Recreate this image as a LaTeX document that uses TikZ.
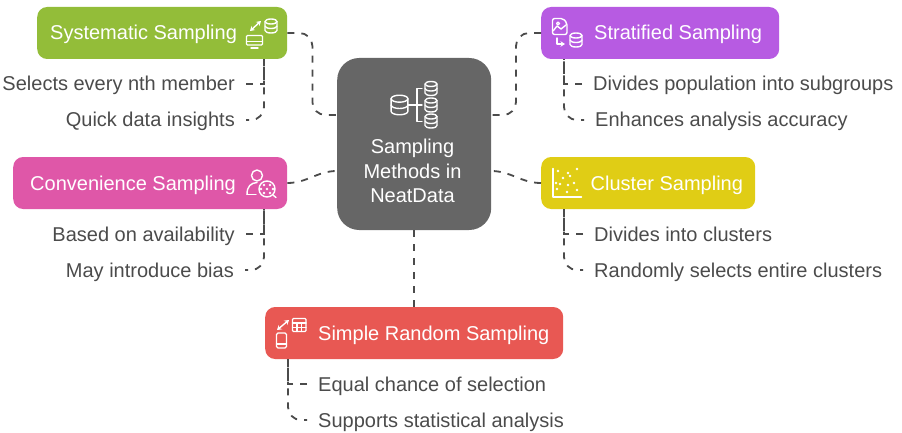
\documentclass[tikz,border=0pt]{standalone}
\usepackage{fontspec}
\usetikzlibrary{arrows.meta}
\setmainfont{Liberation Sans}
\definecolor{sysGreen}{HTML}{93BD39}
\definecolor{stratPurple}{HTML}{B75BE2}
\definecolor{convPink}{HTML}{DF57A8}
\definecolor{clustYellow}{HTML}{E0CD15}
\definecolor{simpleRed}{HTML}{E85853}
\definecolor{hubGray}{HTML}{666666}
\definecolor{inkGray}{HTML}{4B4B4B}
\def\dlink{\draw[link]}
\def\dicon{\draw[iconline]}
\tikzset{
    link/.style={draw=inkGray,line width=1.8pt,dash pattern=on 7pt off 7pt},
    softlink/.style={rounded corners=13pt},
    softend/.style={rounded corners=13pt,dash phase=4pt},
    box/.style={rectangle,rounded corners=10pt,minimum height=52pt,inner sep=0pt,anchor=west},
    title/.style={text=white,font=\fontsize{20}{24}\selectfont,inner sep=0pt,text height=14pt,text depth=0pt,anchor=west},
    leaf/.style={text=inkGray,font=\fontsize{20}{24}\selectfont,inner ysep=0pt,inner xsep=11pt,text height=14pt,text depth=0pt},
    iconline/.style={draw=white,line width=1.4pt,line cap=round,line join=round,>={Stealth[length=4.5pt,width=5.5pt]}},
    dbcan/.pic={
        \draw[iconline] (0,-4.5) ellipse [x radius=6,y radius=2.5];
        \draw[iconline] (-6,-4.5) -- (-6,4.5) arc [start angle=180,end angle=0,x radius=6,y radius=2.5] -- (6,-4.5);
        \draw[iconline] (-6,0) arc [start angle=180,end angle=0,x radius=6,y radius=2.5];
    },
}
\begin{document}
\begin{tikzpicture}[x=1pt,y=-1pt]
    \useasboundingbox (0,0) rectangle (902,433);

    \node[box,fill=hubGray,minimum width=154pt,minimum height=172pt,rounded corners=22pt] (hub) at (337,144) {};
    \node[align=center,text=white,font=\fontsize{20}{24.5}\selectfont,inner sep=0pt] (hubText) at (412.5,171) {Sampling\\Methods in\\NeatData};
    \node[box,fill=sysGreen,minimum width=250pt] (sys) at (37,33) {};
    \node[box,fill=stratPurple,minimum width=238pt] (strat) at (541,33) {};
    \node[box,fill=convPink,minimum width=274pt] (conv) at (13,183) {};
    \node[box,fill=clustYellow,minimum width=214pt] (clust) at (541,183) {};
    \node[box,fill=simpleRed,minimum width=298pt] (simple) at (265,333) {};

    \node[title] (sysText) at (50,33) {Systematic Sampling};
    \node[title] (stratText) at (594,33) {Stratified Sampling};
    \node[title] (convText) at (30,183) {Convenience Sampling};
    \node[title] (clustText) at (590.5,183) {Cluster Sampling};
    \node[title] (simpleText) at (318,333) {Simple Random Sampling};

    \node[leaf,anchor=east] (selects) at (246,84) {Selects every nth member};
    \node[leaf,anchor=east] (quick) at (246,120) {Quick data insights};
    \node[leaf,anchor=west] (divides) at (582,84) {Divides population into subgroups};
    \node[leaf,anchor=west] (enhances) at (584,120) {Enhances analysis accuracy};
    \node[leaf,anchor=east] (based) at (246,234) {Based on availability};
    \node[leaf,anchor=east] (may) at (245,270) {May introduce bias};
    \node[leaf,anchor=west] (clusters) at (583,234) {Divides into clusters};
    \node[leaf,anchor=west] (randomly) at (583,270) {Randomly selects entire clusters};
    \node[leaf,anchor=west] (equal) at (307,384) {Equal chance of selection};
    \node[leaf,anchor=west] (supports) at (307,420) {Supports statistical analysis};

    \coordinate (sysIn) at (337,115);
    \coordinate (stratIn) at (491,115);
    \coordinate (convIn) at (337,171);
    \coordinate (clustIn) at (491,171);
    \coordinate (sysRoot) at (264,59);
    \coordinate (stratRoot) at (564,59);
    \coordinate (convRoot) at (264,209);
    \coordinate (clustRoot) at (564,209);
    \coordinate (simpleRoot) at (288,359);

    \dlink[softlink] (sys.east) -- ++(25,0) |- (sysIn);
    \dlink[softlink] (strat.west) -- ++(-25,0) |- (stratIn);
    \dlink (conv.east) to[out=0,in=180] (convIn);
    \dlink (clust.west) to[out=180,in=0] (clustIn);
    \dlink (hub.south) -- (simple.north -| hub.south);

    \dlink (selects.east) -| (sysRoot);
    \dlink[softend] (quick.east) -| (sysRoot);
    \dlink (divides.west) -| (stratRoot);
    \dlink[softend] (enhances.west) -| (stratRoot);
    \dlink (based.east) -| (convRoot);
    \dlink[softend] (may.east) -| (convRoot);
    \dlink (clusters.west) -| (clustRoot);
    \dlink[softend] (randomly.west) -| (clustRoot);
    \dlink (equal.west) -| (simpleRoot);
    \dlink[softend] (supports.west) -| (simpleRoot);

    \pic[scale=1.4] at (399.5,105) {dbcan};
    \pic at (431,88.5) {dbcan};
    \pic at (431,105) {dbcan};
    \pic at (431,121) {dbcan};
    \dicon (422,88.5) -- (417,88.5) -- (417,121.5) -- (422,121.5);
    \dicon (408,105) -- (422,105);

    \pic at (271,26) {dbcan};
    \dicon[rounded corners=1pt] (246.5,35.5) rectangle (262.5,45);
    \dicon (246.5,41.5) -- (262.5,41.5);
    \dicon (251,48) -- (258,48);
    \dicon[<->] (250,31) -- (261,21);

    \pic at (576,40) {dbcan};
    \dicon[rounded corners=2pt] (552.5,18.5) -- (563,18.5) -- (567,23) -- (567,34.5) -- (552.5,34.5) -- cycle;
    \dicon (553,31) -- (557,26) -- (561,29) -- (566,25);
    \dicon (558,23.5) circle (1.5);
    \dicon[->] (557,38) -- (557,44) -- (565,44);

    \dicon (257,175.5) circle (5.5);
    \dicon (247,194.5) .. controls (247,186) and (251,183) .. (257,182.5);
    \dicon (247,194.5) -- (256,194.5);
    \dicon (267,189) circle (8);
    \dicon (273,195) -- (276,197.5);
    \foreach \dotx/\doty in {264/185,270/185,261/189,267/189,273/189,264/193,270/193}
        \fill[white] (\dotx,\doty) circle (1.3);

    \dicon (553,168.5) -- (553,197) -- (581.5,197);
    \foreach \dotx/\doty in {558/171,568/173,577/169,570/176,563/178,556/183,560/184,568/185,574/183,557/189,567/192,577/190}
        \fill[white] (\dotx,\doty) circle (1.3);

    \dicon[rounded corners=1pt] (292.5,318.5) rectangle (306,331.5);
    \dicon (292.5,323) -- (306,323);
    \dicon (292.5,327.5) -- (306,327.5);
    \dicon (297,323) -- (297,331.5);
    \dicon (301.5,323) -- (301.5,331.5);
    \dicon[rounded corners=1.5pt] (276.5,333) rectangle (286.5,348);
    \dicon (276.5,344) -- (286.5,344);
    \dicon[<->] (277,330) -- (289,320);
\end{tikzpicture}
\end{document}
